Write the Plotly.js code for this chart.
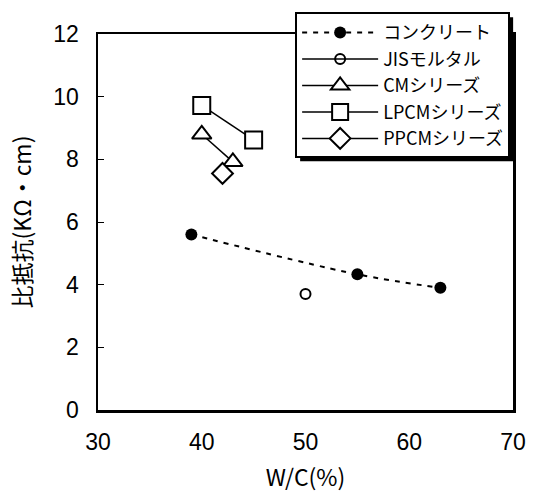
<!DOCTYPE html>
<html><head><meta charset="utf-8">
<script src="https://cdn.plot.ly/plotly-3.0.1.min.js"></script>
<style>body{margin:0;background:#fff}#c{width:534px;height:499px}</style>
</head><body><div id="c"></div>
<script>
const concreteX = [39, 55, 63];
const concreteY = [5.6, 4.33, 3.9];
const jisX = [50];
const jisY = [3.7];
const cmX = [40, 43];
const cmY = [8.8, 7.92];
const lpcmX = [40, 45];
const lpcmY = [9.72, 8.62];
const ppcmX = [42];
const ppcmY = [7.55];
const names = ['コンクリート', 'JISモルタル', 'CMシリーズ', 'LPCMシリーズ', 'PPCMシリーズ'];
const xTicks = [30, 40, 50, 60, 70];
const yTicks = [0, 2, 4, 6, 8, 10, 12];

const jp = 'Noto Sans CJK JP, Liberation Sans, sans-serif';
const num = 'Liberation Sans, Arial, sans-serif';

const traces = [
  {x: concreteX, y: concreteY, name: names[0], mode: 'lines+markers',
   line: {color: '#000', width: 2, dash: '5px,6px', shape: 'spline'},
   marker: {symbol: 'circle', size: 12, color: '#000'}},
  {x: jisX, y: jisY, name: names[1], mode: 'lines+markers',
   line: {color: '#000', width: 1.5},
   marker: {symbol: 'circle-open', size: 10, color: '#000', line: {width: 2}}},
  {x: cmX, y: cmY, name: names[2], mode: 'lines+markers',
   line: {color: '#000', width: 1.5},
   marker: {symbol: 'triangle-up', size: 17, color: '#fff', line: {color: '#000', width: 2}}},
  {x: lpcmX, y: lpcmY, name: names[3], mode: 'lines+markers',
   line: {color: '#000', width: 1.5},
   marker: {symbol: 'square', size: 17, color: '#fff', line: {color: '#000', width: 2}}},
  {x: ppcmX, y: ppcmY, name: names[4], mode: 'lines+markers',
   line: {color: '#000', width: 1.5},
   marker: {symbol: 'diamond', size: 16, color: '#fff', line: {color: '#000', width: 2}}}
];

const layout = {
  width: 534, height: 499,
  margin: {l: 98, r: 21, t: 30, b: 89},
  paper_bgcolor: '#fff', plot_bgcolor: '#fff',
  showlegend: true,
  font: {family: num, color: '#000', size: 23},
  xaxis: {
    range: [30, 70], tickvals: xTicks, ticktext: xTicks.map(String),
    showgrid: false, zeroline: false,
    showline: true, linecolor: '#000', linewidth: 2.5, mirror: true,
    ticks: 'inside', ticklen: 0, ticklabelstandoff: 10,
    tickfont: {family: num, size: 23, color: '#000'},
    title: {text: 'W/C(%)', font: {family: jp, size: 23, color: '#000'}, standoff: 16}
  },
  yaxis: {
    range: [0, 12], tickvals: yTicks, ticktext: yTicks.map(String),
    showgrid: false, zeroline: false,
    showline: true, linecolor: '#000', linewidth: 2.5, mirror: true,
    ticks: 'inside', ticklen: 6, tickwidth: 1, tickcolor: '#000', ticklabelstandoff: 12,
    tickfont: {family: num, size: 23, color: '#000'},
    title: {text: '比抵抗(KΩ・cm)', font: {family: jp, size: 23, color: '#000'}, standoff: 16}
  },
  legend: {
    x: 0.475, y: 1.058, xanchor: 'left', yanchor: 'top',
    bgcolor: '#fff', bordercolor: '#000', borderwidth: 2,
    font: {family: jp, size: 18, color: '#000'},
    itemwidth: 76, tracegroupgap: 0
  }
};

const ROW = 26.5;

Plotly.newPlot('c', traces, layout, {displayModeBar: false, staticPlot: true}).then(gd => {
  const bg = gd.querySelector('.legend .bg');
  if (!bg) return;
  const items = Array.from(gd.querySelectorAll('.legend .traces'));
  const ys = items.map(el => {
    const m = /translate\(\s*([-\d.]+)[ ,]+([-\d.]+)/.exec(el.getAttribute('transform') || '');
    return m ? [parseFloat(m[1]), parseFloat(m[2])] : [0, 0];
  });
  let shrink = 0;
  if (items.length > 1) {
    const oldStep = (ys[ys.length - 1][1] - ys[0][1]) / (items.length - 1);
    shrink = Math.max(0, (oldStep - ROW) * (items.length - 1));
  }
  const r = bg.getBoundingClientRect();
  const c = gd.getBoundingClientRect();
  const fs = gd._fullLayout._size;
  const off = 4;
  const toX = px => (px - c.left - fs.l) / fs.w;
  const toY = py => 1 - (py - c.top - fs.t) / fs.h;
  const bottom = r.bottom - shrink;
  Plotly.relayout(gd, {shapes: [{
    type: 'rect', xref: 'paper', yref: 'paper',
    x0: toX(r.left + off), x1: toX(r.right + off),
    y0: toY(bottom + off), y1: toY(r.top + off),
    fillcolor: '#000', line: {width: 0}, layer: 'above'
  }]}).then(() => {
    const bg2 = gd.querySelector('.legend .bg');
    const items2 = Array.from(gd.querySelectorAll('.legend .traces'));
    items2.forEach((el, i) => {
      el.setAttribute('transform', `translate(${ys[i][0]},${ys[0][1] + i * ROW})`);
    });
    const h = parseFloat(bg2.getAttribute('height'));
    bg2.setAttribute('height', h - shrink);
  });
});
</script>
</body></html>
